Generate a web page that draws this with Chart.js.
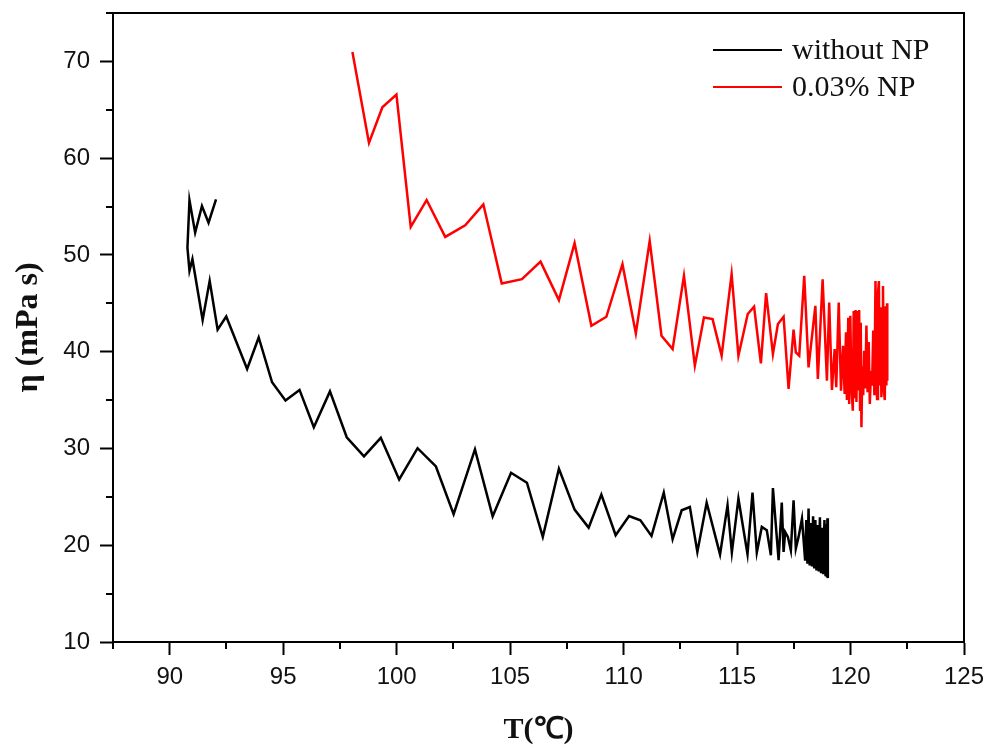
<!DOCTYPE html>
<html>
<head>
<meta charset="utf-8">
<script src="https://cdn.jsdelivr.net/npm/chart.js@4"></script>
<style>
  body { margin: 0; background: #fff; }
  canvas { display: block; }
</style>
</head>
<body>
<canvas id="chart" width="986" height="748"></canvas>
<script>
// viscosity vs temperature
const seriesNames = ["without NP", "0.03% NP"];
const seriesColors = ["#000000", "#ff0000"];

const tempNoNP = [92.04, 91.71, 91.42, 91.12, 90.87, 90.78, 90.87, 91.0, 91.45, 91.76, 92.11, 92.49, 93.41, 93.92, 94.51, 95.1, 95.72, 96.35, 97.06, 97.8, 98.56, 99.3, 100.11, 100.92, 101.73, 102.51, 103.45, 104.23, 105.04, 105.74, 106.44, 107.15, 107.84, 108.46, 109.02, 109.65, 110.24, 110.74, 111.23, 111.77, 112.16, 112.56, 112.92, 113.25, 113.66, 114.25, 114.58, 114.77, 115.06, 115.46, 115.68, 115.87, 116.09, 116.31, 116.49, 116.58, 116.83, 116.97, 117.05, 117.12, 117.24, 117.37, 117.49, 117.59, 117.71, 117.86, 118.0, 118.05, 118.1, 118.15, 118.2, 118.25, 118.3, 118.35, 118.4, 118.45, 118.5, 118.55, 118.6, 118.65, 118.7, 118.75, 118.8, 118.85, 118.9, 118.93, 118.96, 118.98, 119.0];
const etaNoNP = [55.74, 53.33, 55.05, 52.3, 55.64, 50.75, 48.35, 49.56, 43.27, 47.32, 42.27, 43.64, 38.22, 41.47, 36.84, 34.95, 36.05, 32.2, 35.9, 31.16, 29.18, 31.1, 26.8, 30.03, 28.14, 23.2, 29.9, 22.99, 27.49, 26.46, 20.86, 27.9, 23.68, 21.82, 25.23, 21.03, 23.02, 22.58, 20.96, 25.43, 20.62, 23.61, 23.95, 19.31, 24.4, 19.05, 24.12, 19.25, 24.81, 19.07, 25.43, 19.25, 21.89, 21.55, 18.97, 25.91, 18.45, 24.4, 19.31, 21.37, 20.86, 19.48, 24.64, 19.66, 20.86, 22.75, 18.4, 22.6, 18.1, 23.8, 17.9, 22.3, 17.8, 23.0, 17.6, 22.6, 17.4, 22.1, 17.3, 22.9, 17.1, 21.8, 17.0, 22.6, 16.8, 22.2, 16.7, 22.8, 16.6];

const tempNP = [98.05, 98.78, 99.37, 99.99, 100.62, 101.32, 102.14, 103.02, 103.82, 104.63, 105.52, 106.34, 107.15, 107.84, 108.58, 109.24, 109.95, 110.54, 111.15, 111.67, 112.16, 112.66, 113.14, 113.54, 113.92, 114.32, 114.76, 115.06, 115.47, 115.75, 116.05, 116.28, 116.58, 116.8, 117.05, 117.27, 117.49, 117.59, 117.74, 117.96, 118.15, 118.45, 118.56, 118.77, 118.96, 119.06, 119.18, 119.3, 119.37, 119.48, 119.58, 119.67, 119.74, 119.8, 119.84, 119.9, 119.94, 119.99, 120.04, 120.1, 120.14, 120.18, 120.22, 120.26, 120.3, 120.34, 120.38, 120.42, 120.45, 120.48, 120.52, 120.56, 120.6, 120.65, 120.7, 120.75, 120.8, 120.85, 120.9, 120.95, 121.0, 121.05, 121.1, 121.14, 121.17, 121.21, 121.25, 121.28, 121.32, 121.36, 121.39, 121.43, 121.47, 121.51, 121.55, 121.58, 121.61, 121.62];
const etaNP = [70.96, 61.58, 65.26, 66.57, 52.89, 55.67, 51.86, 53.06, 55.23, 47.04, 47.49, 49.31, 45.33, 51.21, 42.68, 43.61, 49.04, 41.89, 51.44, 41.65, 40.28, 47.84, 38.56, 43.54, 43.37, 39.59, 48.01, 39.59, 43.89, 44.64, 38.79, 46.05, 39.76, 42.86, 43.61, 36.15, 42.27, 39.93, 39.59, 47.84, 38.38, 44.74, 37.19, 47.49, 37.01, 45.08, 36.05, 40.28, 36.32, 45.08, 35.98, 40.62, 35.64, 42.0, 35.0, 43.5, 34.6, 43.7, 36.4, 33.9, 44.2, 35.2, 44.3, 34.8, 44.2, 36.0, 44.3, 34.0, 43.0, 32.2, 38.5, 35.5, 40.1, 36.2, 42.7, 35.8, 41.0, 34.6, 38.0, 36.5, 42.2, 35.5, 47.3, 36.8, 35.1, 46.0, 47.3, 36.5, 44.6, 35.3, 38.0, 46.8, 36.0, 35.0, 44.7, 36.5, 45.0, 37.0];

const xMin = 87.5, xMax = 125, xStep = 2.5;
const yMin = 10, yMax = 75, yStep = 5;

function toPoints(xs, ys) {
  return xs.map((x, i) => ({ x: x, y: ys[i] }));
}

const isMajorX = (v) => Math.abs(v % 5) < 1e-6;
const isMajorY = (v) => Math.abs(v % 10) < 1e-6;

// frame, minor ticks and legend
const decorations = {
  id: "decorations",
  afterDraw(chart) {
    const ctx = chart.ctx;
    const a = chart.chartArea;
    ctx.save();
    ctx.strokeStyle = "#000";
    ctx.lineWidth = 2;
    ctx.beginPath();
    ctx.moveTo(a.left, a.top);
    ctx.lineTo(a.right, a.top);
    ctx.lineTo(a.right, a.bottom);
    ctx.stroke();

    const xs = chart.scales.x, ys = chart.scales.y;
    ctx.lineWidth = 2;
    ctx.beginPath();
    xs.ticks.forEach((t) => {
      if (!isMajorX(t.value)) {
        const px = Math.round(xs.getPixelForValue(t.value));
        ctx.moveTo(px, a.bottom);
        ctx.lineTo(px, a.bottom + 7);
      }
    });
    ys.ticks.forEach((t) => {
      if (!isMajorY(t.value)) {
        const py = Math.round(ys.getPixelForValue(t.value));
        ctx.moveTo(a.left, py);
        ctx.lineTo(a.left - 7, py);
      }
    });
    ctx.stroke();

    ctx.font = "30px 'Liberation Serif', 'Times New Roman', serif";
    ctx.textBaseline = "middle";
    ctx.textAlign = "left";
    chart.data.datasets.forEach((ds, i) => {
      const y = 50 + i * 37;
      ctx.strokeStyle = ds.borderColor;
      ctx.lineWidth = 2;
      ctx.beginPath();
      ctx.moveTo(713, y);
      ctx.lineTo(782, y);
      ctx.stroke();
      ctx.fillStyle = "#111";
      ctx.fillText(ds.label, 792, y + 1);
    });
    ctx.restore();
  }
};

new Chart(document.getElementById("chart"), {
  type: "scatter",
  data: {
    datasets: [
      {
        label: seriesNames[0],
        data: toPoints(tempNoNP, etaNoNP),
        showLine: true,
        borderColor: seriesColors[0],
        backgroundColor: seriesColors[0],
        borderWidth: 2.5,
        pointRadius: 0,
        tension: 0,
      },
      {
        label: seriesNames[1],
        data: toPoints(tempNP, etaNP),
        showLine: true,
        borderColor: seriesColors[1],
        backgroundColor: seriesColors[1],
        borderWidth: 2.5,
        pointRadius: 0,
        tension: 0,
      },
    ],
  },
  options: {
    responsive: false,
    animation: false,
    devicePixelRatio: 1,
    layout: { padding: { top: 13, right: 22, left: 0, bottom: 0 } },
    plugins: {
      legend: { display: false },
      tooltip: { enabled: false },
    },
    scales: {
      x: {
        type: "linear",
        min: xMin,
        max: xMax,
        afterFit: (scale) => {
          scale.height = 106;
          scale.paddingLeft = 0;
          scale.paddingRight = 0;
        },
        ticks: {
          stepSize: xStep,
          autoSkip: false,
          maxRotation: 0,
          padding: 8,
          color: "#111",
          font: { family: "'Liberation Sans', Arial, sans-serif", size: 24 },
          callback: (v) => (isMajorX(v) ? String(v) : ""),
        },
        grid: {
          drawOnChartArea: false,
          drawTicks: true,
          tickLength: 13,
          tickWidth: 2,
          tickColor: (c) => (c.tick && isMajorX(c.tick.value) ? "#000" : "rgba(0,0,0,0)"),
        },
        border: { display: true, color: "#000", width: 2 },
        title: {
          display: true,
          text: "T(℃)",
          color: "#111",
          font: { family: "'Liberation Serif', 'Times New Roman', serif", size: 30, weight: "bold" },
          padding: { top: 0, bottom: 0 },
        },
      },
      y: {
        type: "linear",
        min: yMin,
        max: yMax,
        afterFit: (scale) => {
          scale.width = 113;
          scale.paddingTop = 0;
          scale.paddingBottom = 0;
        },
        ticks: {
          stepSize: yStep,
          autoSkip: false,
          padding: 10,
          color: "#111",
          font: { family: "'Liberation Sans', Arial, sans-serif", size: 24 },
          callback: (v) => (isMajorY(v) ? String(v) : ""),
        },
        grid: {
          drawOnChartArea: false,
          drawTicks: true,
          tickLength: 13,
          tickWidth: 2,
          tickColor: (c) => (c.tick && isMajorY(c.tick.value) ? "#000" : "rgba(0,0,0,0)"),
        },
        border: { display: true, color: "#000", width: 2 },
        title: {
          display: true,
          text: "η (mPa s)",
          color: "#111",
          font: { family: "'Liberation Serif', 'Times New Roman', serif", size: 32, weight: "bold" },
          padding: { top: 10, bottom: 0 },
        },
      },
    },
  },
  plugins: [decorations],
});
</script>
</body>
</html>
